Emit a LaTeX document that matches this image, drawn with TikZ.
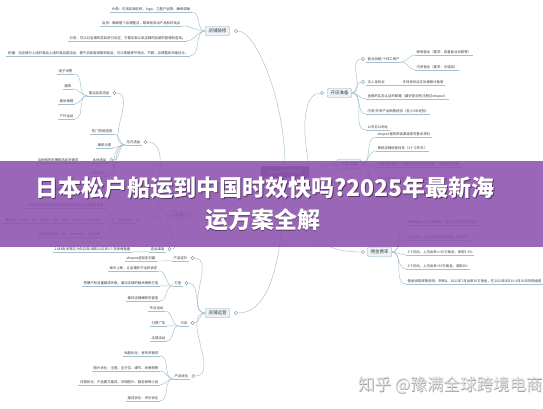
\documentclass[tikz,border=0pt]{standalone}
\usepackage{fontspec}
\newfontfamily\cjk{Noto Sans CJK SC}
\definecolor{lc}{RGB}{162,192,206}
\definecolor{tc}{RGB}{60,60,60}
\definecolor{boxf}{RGB}{236,243,248}
\definecolor{boxd}{RGB}{140,172,192}
\definecolor{ban}{RGB}{141,81,174}
\definecolor{cen}{RGB}{70,90,120}
\begin{document}
\begin{tikzpicture}[x=1pt,y=-1pt,
 ln/.style={draw=lc,line width=0.45pt},
 ul/.style={append after command={(\tikzlastnode.south west) edge[ln] (\tikzlastnode.south east)}},
 leaf/.style={font=\cjk\fontsize{3.4}{4}\selectfont,text=tc,inner xsep=1.5pt,inner ysep=1pt,ul},
 lf/.style={leaf,anchor=east},
 rt/.style={leaf,anchor=west},
 mainbox/.style={draw=boxd,fill=boxf,rounded corners=1pt,line width=0.4pt,font=\cjk\fontsize{4.5}{5}\selectfont,text=tc,minimum height=9pt,inner xsep=3pt,inner ysep=1pt},
 tog/.style={draw=lc!70!black,fill=white,line width=0.3pt,circle,inner sep=0pt,minimum size=3.4pt},
 lk/.style={ln,out=180,in=0},
 rk/.style={ln,out=0,in=180},
 ttl/.style={font=\cjk\bfseries\fontsize{23}{26}\selectfont,inner sep=0pt},
 wm/.style={font=\cjk\fontsize{16.5}{18}\selectfont,inner sep=0pt,anchor=west}]
\useasboundingbox (0,0) rectangle (543,408);
\fill[white] (0,0) rectangle (543,408);

% ---------- center ----------
\node[draw=cen!80!black,fill=cen,rounded corners=1pt,font=\cjk\fontsize{4.5}{5}\selectfont,text=white,minimum width=48pt,minimum height=11pt,inner sep=1pt] (c) at (285,172) {Shopee开店指南};

% ---------- main boxes ----------
\node[mainbox] (zx) at (217.5,31) {店铺装修};
\node[tog] (zxc) at (236,31) {};
\node[mainbox] (xp) at (179,215) {选品};
\node[tog] (xpc) at (189,215) {};
\node[mainbox] (yy) at (217.5,313) {店铺运营};
\node[tog] (yyc) at (236,313) {};
\node[mainbox] (kd) at (339.5,93) {开店准备};
\node[tog] (kdc) at (322,93) {};
\node[mainbox] (rz) at (349,164) {入驻流程};
\node[tog] (rzc) at (335,164) {};
\node[mainbox] (yj) at (379.5,252) {佣金费率};
\node[tog] (yjc) at (363,252) {};

% center connectors
\draw[ln] (c.north) .. controls (285,100) and (256,31) .. (zxc);
\draw[ln] (c.north east) .. controls (300,120) and (306,93) .. (kdc);
\draw[ln] (c.east) .. controls (322,172) and (324,164) .. (rzc);
\draw[ln] (c.south) .. controls (292,240) and (330,252) .. (yjc);
\draw[ln] (c.south) .. controls (282,285) and (262,313) .. (yyc);
\draw[ln] (c.south west) .. controls (245,205) and (215,215) .. (xpc);

% ---------- 店铺装修 ----------
\node[lf] (dz1) at (192,9) {头像：可用店铺名称、logo、卫星产品等，确保清晰};
\node[lf] (dz2) at (182,23) {店招：确保整个店铺整洁，精准地突出产品和好卖点};
\node[lf] (dz3) at (187,38) {分类：可以对店铺的类目进行设定，方便买家以及店铺的后期的管理和查找。};
\node[lf] (dz4) at (190,53) {轮播：对店铺已上线的商品上线的商品或活动，便于买家直观看到商品，可以根据季节特点、节假、店铺整体风格设计。};
\draw (zx.west) edge[lk] (dz1.south east) edge[lk] (dz2.south east)
      edge[lk] (dz3.south east) edge[lk] (dz4.south east);

% ---------- 选品 ----------
\node[lf] (zn) at (142,142) {站内选品};
\node[tog] (znc) at (145.5,142) {};
\node[lf] (zd) at (111,93) {重点品类选品};
\node[tog] (zdc) at (114.5,93) {};
\node[lf] (zd1) at (74,71) {电子消费};
\node[lf] (zd2) at (73,86) {服饰};
\node[lf] (zd3) at (75,101) {美妆保健};
\node[lf] (zd4) at (75,116) {户外运动};
\draw (zd.south west) edge[lk] (zd1.south east) edge[lk] (zd2.south east)
      edge[lk] (zd3.south east) edge[lk] (zd4.south east);
\node[lf] (zn2) at (114,131) {热门热销选择};
\node[lf] (zn3) at (113,145) {爆款元素};
\node[lf] (bd) at (108,160) {本地选品};
\node[tog] (bdc) at (111.5,160) {};
\node[lf] (bd1) at (80,160) {当地相关的爆款选品关键词};
\draw (bd.south west) edge[lk] (bd1.south east);
\node[lf] (zn5) at (107,173) {海外热品};
\node[lf] (zn6) at (102,189) {提及相关外部站点的爆款产品};
\draw (zn.south west) edge[lk] (zdc) edge[lk] (zn2.south east) edge[lk] (zn3.south east)
      edge[lk] (bdc) edge[lk] (zn5.south east) edge[lk] (zn6.south east);
\node[lf] (zw) at (134,220) {站外选品};
\node[tog] (zwc) at (137.5,220) {};
\node[lf] (zw1) at (105,205) {100次搜索类目热销单件/增加以达到1个货源储备量};
\node[lf] (zw2) at (102,220) {亚马逊：lazada、tb、Tiktok、Q10、Wish、amazon、ebay等};
\node[lf] (zw3) at (102,234) {社交媒体选品：ins、facebook、tiktok等};
\draw (zw.south west) edge[lk] (zw1.south east) edge[lk] (zw2.south east) edge[lk] (zw3.south east);
\node[lf] (qd) at (166,249) {选品渠道};
\node[tog] (qdc) at (169.5,249) {};
\node[lf] (qd1) at (132,249) {1688批发等实力供应商/增配以达到1个货源储备量};
\draw (qd.south west) edge[lk] (qd1.south east);
\draw (xp.west) edge[lk] (znc) edge[lk] (zwc) edge[lk] (qdc);

% ---------- 店铺运营 ----------
\node[lf] (dj) at (189,258) {产品定价};
\node[tog] (djc) at (192.5,258) {};
\node[lf] (dj1) at (157,258) {shopee虚拟定价器};
\draw (dj.south west) edge[lk] (dj1.south east);
\node[lf] (da) at (183,283) {打造};
\node[tog] (dac) at (186.5,283) {};
\node[lf] (da1) at (159,268) {每天上新，让店铺处于活跃状态};
\node[lf] (da2) at (160,283) {把爆产和流量做成关联，通过店铺的相关爆款打造};
\node[lf] (da3) at (160,298) {做好店铺爆款的营造};
\draw (da.south west) edge[lk] (da1.south east) edge[lk] (da2.south east) edge[lk] (da3.south east);
\node[lf] (yl) at (189,323) {引流};
\node[tog] (ylc) at (192.5,323) {};
\node[lf] (yl1) at (165,308) {平台活动};
\node[lf] (yl2) at (167,323) {付费广告};
\node[lf] (yl3) at (167,338) {店铺活动};
\draw (yl.south west) edge[lk] (yl1.south east) edge[lk] (yl2.south east) edge[lk] (yl3.south east);
\node[lf] (yh) at (190,376) {产品优化};
\node[tog] (yhc) at (193.5,376) {};
\node[lf] (yh1) at (160,353) {标题优化：有效关键词};
\node[lf] (yh2) at (160,368) {图片优化：主图、全方位、细节、场景图等};
\node[lf] (yh3) at (160,382) {详情优化：产品图文描述、详情图片、服务保障介绍};
\node[lf] (yh4) at (160,398) {描述优化：评价优化};
\draw (yh.south west) edge[lk] (yh1.south east) edge[lk] (yh2.south east)
      edge[lk] (yh3.south east) edge[lk] (yh4.south east);
\draw (yy.west) edge[lk] (djc) edge[lk] (dac) edge[lk] (ylc) edge[lk] (yhc);

% ---------- 开店准备 ----------
\node[rt] (k1) at (366,59) {营业执照/个体工商户};
\node[tog] (k1c) at (363,59) {};
\node[rt] (k1a) at (415,52) {跨境营业（要求：具备营业执照等）};
\node[rt] (k1b) at (415,67) {内贸营业（要求：可增加）};
\draw (k1.south east) edge[rk] (k1a.south west) edge[rk] (k1b.south west);
\node[rt] (k2) at (366,82) {法人身份证};
\node[tog] (k2c) at (363,82) {};
\node[rt] (k2a) at (401,82) {手持身份证正反面照片备用};
\draw[ln] (k2.south east) -- (k2a.south west);
\node[rt] (k3) at (366,96) {金额的实名认证的邮箱（最好是没有注册过shopee）};
\node[rt] (k4) at (366,111) {内贸/外贸产品销售经验（至少1年经验）};
\node[rt] (k5) at (366,127) {公司办公地址};
\draw (kd.east) edge[rk] (k1c) edge[rk] (k2c) edge[rk] (k3.south west)
      edge[rk] (k4.south west) edge[rk] (k5.south west);

% ---------- 入驻流程 ----------
\node[rt] (r1) at (376,134) {shopee官网申请渠道填写基本资料};
\node[rt] (r2) at (376,148) {审核店铺经营体系（3个工作日）};
\node[rt] (r3) at (376,164) {然后审核通过，店铺会在平台进行审核，按照操作流程};
\node[rt] (r4) at (376,179) {开店后完成新手任务及店铺基础设置，熟悉后台操作};
\node[rt] (r5) at (376,194) {上传已准备好的商品，开始运营店铺};
\draw (rz.east) edge[rk] (r1.south west) edge[rk] (r2.south west) edge[rk] (r3.south west)
      edge[rk] (r4.south west) edge[rk] (r5.south west);

% ---------- 佣金费率 ----------
\node[rt] (y1) at (406,222) {新卖家前六个月免佣金（每个站点的开店佣金）};
\node[rt] (y2) at (406,237) {3个月后，上月出单<10万美金，收取5\%};
\node[rt] (y3) at (406,252) {3个月后，上月出单<=50万美金，收取5.5\%};
\node[rt] (y4) at (406,266) {3个月后，上月出单>50万美金，收取6\%};
\node[rt] (y5) at (406,281) {佣金收取政策说明：举例A，2021年7月出单10万美金，在2021年8月16-9月30日的佣金是};
\draw (yj.east) edge[rk] (y1.south west) edge[rk] (y2.south west) edge[rk] (y3.south west)
      edge[rk] (y4.south west) edge[rk] (y5.south west);

% ---------- banner ----------
\fill[ban,opacity=0.88] (0,161) rectangle (543,247);
\node[ttl,text=black,opacity=0.45] (t1s) at (265.8,188.8) {日本松户船运到中国时效快吗?2025年最新海};
\node[ttl,text=white] (t1) at (265,188) {日本松户船运到中国时效快吗?2025年最新海};
\node[ttl,text=black,opacity=0.45] (t2s) at (263.3,220.8) {运方案全解};
\node[ttl,text=white] (t2) at (262.5,220) {运方案全解};

% ---------- watermark ----------
\node[wm,text=gray!75] (ws) at (358.6,385.6) {知乎 @豫满全球跨境电商};
\node[wm,text=gray!22] (w) at (358,385) {知乎 @豫满全球跨境电商};
\end{tikzpicture}
\end{document}
